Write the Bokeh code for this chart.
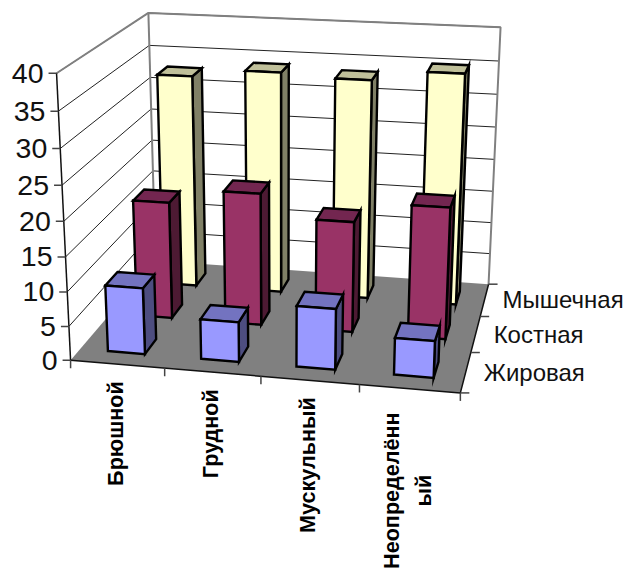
import numpy as np
from bokeh.core.properties import value
from bokeh.embed import file_html
from bokeh.plotting import figure
from bokeh.resources import INLINE

# Chart data
categories = ["Брюшной", "Грудной", "Мускульный", "Неопределённ|ый"]
series_names = ["Жировая", "Костная", "Мышечная"]
zhirovaya = [9.7, 5.8, 8.8, 5.3]
kostnaya = [17.6, 19.8, 16.5, 19.5]
myshechnaya = [32.8, 34.0, 33.5, 35.1]
value_ticks = [0, 5, 10, 15, 20, 25, 30, 35, 40]

# Face colours per series: front, top, side
palette = [
    ("#9999FF", "#7373C0", "#4D4D80"),
    ("#993366", "#732650", "#4D1A33"),
    ("#FFFFCC", "#C0C09A", "#808066"),
]

# Camera calibration of the chart box: (category, depth, value) in 0..1 to page pixels
box_world = np.array([
    (0, 0, 0), (1, 0, 0), (0, 1, 0), (1, 1, 0),
    (0, 0, 1), (0, 1, 1), (1, 1, 1),
], float)
box_page = np.array([
    (70, 359), (460, 393), (155, 261), (488, 283),
    (56, 73), (148, 12), (500, 27),
], float)


def solve_camera(world, page):
    rows, rhs = [], []
    for (X, Y, Z), (u, v) in zip(world, page):
        rows.append([X, Y, Z, 1, 0, 0, 0, 0, -u * X, -u * Y, -u * Z])
        rows.append([0, 0, 0, 0, X, Y, Z, 1, -v * X, -v * Y, -v * Z])
        rhs += [u, v]
    m = np.linalg.lstsq(np.array(rows), np.array(rhs), rcond=None)[0]
    return np.append(m, 1).reshape(3, 4)


CAMERA = solve_camera(box_world, box_page)
V_MAX = value_ticks[-1]


def proj(cat, depth, val):
    """cat in 0..1 along the categories, depth in 0..1 front to back, val in data units."""
    h = CAMERA @ np.array([cat, depth, val / V_MAX, 1.0])
    return h[0] / h[2], h[1] / h[2]


def poly(*pts):
    xy = [proj(*pt) for pt in pts]
    return [q[0] for q in xy], [q[1] for q in xy]


p = figure(width=625, height=571, x_range=(0, 625), y_range=(571, 0),
           toolbar_location=None, output_backend="svg", min_border=0,
           outline_line_color=None, background_fill_color="white")
p.axis.visible = False
p.grid.visible = False


def segs(lines, color, width):
    p.multi_line([l[0] for l in lines], [l[1] for l in lines],
                 line_color=color, line_width=width)


# Floor
fx, fy = poly((0, 0, 0), (1, 0, 0), (1, 1, 0), (0, 1, 0))
p.patch(fx, fy, fill_color="#808080", line_color=None)

# Gridlines along the side and back walls
grid = [poly((0, 0, v), (0, 1, v), (1, 1, v)) for v in value_ticks[1:]]
segs(grid, "#222222", 1)

# Wall edges
edges = [poly((0, 0, V_MAX), (0, 1, V_MAX), (1, 1, V_MAX), (1, 1, 0)),
         poly((0, 1, V_MAX), (0, 1, 0))]
segs(edges, "#808080", 2)

# Bars, back row first
n_cat, n_ser = len(categories), len(series_names)
rows = [zhirovaya, kostnaya, myshechnaya]
GAP = 0.3
for s in reversed(range(n_ser)):
    front_c, top_c, side_c = palette[s]
    y0, y1 = (s + GAP) / n_ser, (s + 1 - GAP) / n_ser
    for c in range(n_cat):
        x0, x1 = (c + GAP) / n_cat, (c + 1 - GAP) / n_cat
        v = rows[s][c]
        faces = [
            (poly((x1, y0, 0), (x1, y1, 0), (x1, y1, v), (x1, y0, v)), side_c),
            (poly((x0, y0, v), (x1, y0, v), (x1, y1, v), (x0, y1, v)), top_c),
            (poly((x0, y0, 0), (x1, y0, 0), (x1, y0, v), (x0, y0, v)), front_c),
        ]
        for (fx, fy), col in faces:
            p.patch(fx, fy, fill_color=col, line_color="black", line_width=2.4,
                    line_join="miter")

# Axis lines and tick marks
axis_lines = [poly((0, 0, 0), (0, 0, V_MAX)),
              poly((0, 0, 0), (1, 0, 0), (1, 1, 0))]
segs(axis_lines, "#111111", 1.5)

ticks = []
for v in value_ticks:
    x, y = proj(0, 0, v)
    ticks.append(([x - 8, x], [y, y]))
for c in range(n_cat + 1):
    x, y = proj(c / n_cat, 0, 0)
    ticks.append(([x, x], [y, y + 8]))
for s in range(n_ser + 1):
    x, y = proj(1, s / n_ser, 0)
    ticks.append(([x, x + 9], [y, y]))
segs(ticks, "#444444", 1.5)

FONT = value("Liberation Sans")

# Value axis labels
for v in value_ticks:
    x, y = proj(0, 0, v)
    p.text([x - 13], [y], text=[str(v)], text_font=FONT, text_font_size="28.5px",
           text_align="right", text_baseline="middle", text_color="#111111")

# Depth axis labels
for s, name in enumerate(series_names):
    x, y = proj(1, (s + 0.5) / n_ser, 0)
    p.text([x + 18], [y], text=[name], text_font=FONT, text_font_size="24px",
           text_align="left", text_baseline="middle", text_color="#111111")

# Category labels, read bottom to top
for c, name in enumerate(categories):
    x, y = proj((c + 0.5) / n_cat, 0, 0)
    lines = name.split("|")
    if len(lines) == 1:
        p.text([x - 2], [y + 17], text=[name], text_font=FONT, text_font_size="21.6px",
               text_font_style="bold", angle=np.pi / 2, text_align="right",
               text_baseline="middle", text_color="black")
    else:
        for k, line in enumerate(lines):
            p.text([x - 16 + 32 * k - 2], [y + 102], text=[line], text_font=FONT,
                   text_font_size="21.6px", text_font_style="bold", angle=np.pi / 2,
                   text_align="center", text_baseline="middle", text_color="black")

open("out.html", "w").write(file_html(p, INLINE))
